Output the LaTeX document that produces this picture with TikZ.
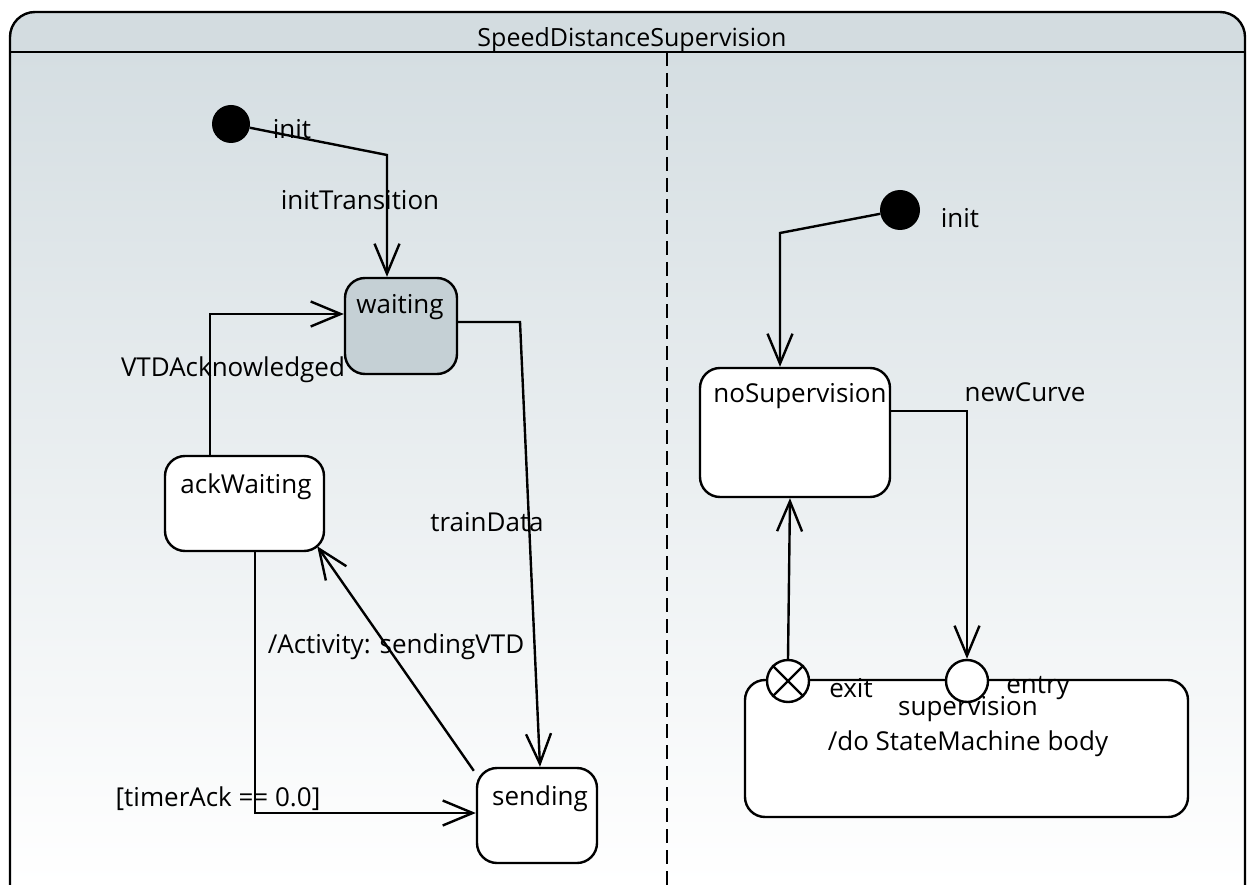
\documentclass[tikz,border=0pt]{standalone}
\usepackage{fontspec}
\setmainfont{Open Sans}
\usetikzlibrary{arrows.meta}
\definecolor{headfill}{RGB}{211,220,224}
\definecolor{bodytop}{RGB}{213,222,226}
\definecolor{busyfill}{RGB}{197,208,213}
\tikzset{
  state/.style={
    draw,
    rounded corners=20pt,
    line width=2.4pt,
    fill=white
  },
  busy/.style={
    state,
    fill=busyfill
  },
  dot/.style={
    circle,
    fill=black,
    minimum size=38pt,
    inner sep=0pt
  },
  pin/.style={
    circle,
    draw,
    line width=2.4pt,
    fill=white,
    minimum size=42pt,
    inner sep=0pt
  },
  lbl/.style={
    inner sep=0pt,
    yshift=-3pt,
    font=\fontsize{26}{30}\selectfont
  },
  trans/.style={
    line width=2.4pt,
    -{Straight Barb[length=30pt,width=25pt]}
  },
  plain/.style={
    line width=2.4pt
  }
}
\begin{document}
\begin{tikzpicture}[x=1pt,y=-1pt]
  \useasboundingbox (0,0) rectangle (1247,885);
  \clip (0,0) rectangle (1247,885);
  \fill[white] (0,0) rectangle (1247,885);

  % frame and title band
  \begin{scope}
    \clip[rounded corners=25pt] (10,12) rectangle (1245,920);
    \fill[headfill] (10,12) rectangle (1245,52);
    \shade[top color=bodytop, bottom color=white] (10,52) rectangle (1245,885);
  \end{scope}
  \draw[plain, rounded corners=25pt] (10,920) -- (10,12) -- (1245,12) -- (1245,920);
  \draw[plain] (10,52) -- (1245,52);
  \node[lbl, font=\fontsize{25}{30}\selectfont] (title) at (632,37) {SpeedDistanceSupervision};
  \draw[line width=2pt, dash pattern=on 14pt off 7pt] (667,52) -- (667,885);

  % left region
  \node[dot] (init1) at (231,124) {};
  \node[busy, minimum width=112pt, minimum height=96pt] (waiting) at (401,326) {};
  \node[state, minimum width=159pt, minimum height=95pt] (ackWaiting) at (244.5,503.5) {};
  \node[state, minimum width=120pt, minimum height=95pt] (sending) at (537,815.5) {};
  \node[lbl] (waitingTxt) at (400,304) {waiting};
  \node[lbl] (ackWaitingTxt) at (246,484) {ackWaiting};
  \node[lbl] (sendingTxt) at (540,796) {sending};

  \coordinate (c1) at (387,155);
  \coordinate (c2) at (210,314);
  \coordinate (c3) at (520,322);
  \coordinate (c4) at (255,813);
  \draw[trans] (init1) -- (c1) -- (c1 |- waiting.north);
  \draw[trans] (c2 |- ackWaiting.north) -- (c2) -- (c2 -| waiting.west);
  \draw[trans] (waiting.east |- c3) -- (c3) -- ([xshift=3pt]sending.north);
  \draw[trans] ([shift={(-2,4)}]sending.north west) -- ([shift={(-8,-6)}]ackWaiting.south east);
  \draw[trans] (c4 |- ackWaiting.south) -- (c4) -- (c4 -| sending.west);

  \node[lbl] (lInit1) at (292,126) {init};
  \node[lbl] (lInitTr) at (360,197) {initTransition};
  \node[lbl] (lVTD) at (233,367) {VTDAcknowledged};
  \node[lbl] (lTrain) at (487,519) {trainData};
  \node[lbl] (lAct) at (396,644) {/Activity: sendingVTD};
  \node[lbl] (lTimer) at (218,796) {[timerAck == 0.0]};

  % right region
  \node[dot, minimum size=40pt] (init2) at (900,210) {};
  \node[state, minimum width=190pt, minimum height=129pt] (noSup) at (795,432.5) {};
  \node[state, minimum width=443pt, minimum height=137pt] (sup) at (966.5,748.5) {};
  \node[pin] (exitPt) at (788,681) {};
  \node[pin] (entryPt) at (967,681) {};
  \draw[plain] (exitPt.north west) -- (exitPt.south east);
  \draw[plain] (exitPt.north east) -- (exitPt.south west);
  \node[lbl] (noSupTxt) at (800,393) {noSupervision};
  \node[lbl] (supTxt) at (968,706) {supervision};
  \node[lbl] (supDo) at (968,741) {/do StateMachine body};

  \coordinate (c5) at (780,233);
  \coordinate (c6) at (967,411);
  \draw[trans] (init2) -- (c5) -- (c5 |- noSup.north);
  \draw[trans] (noSup.east |- c6) -- (c6) -- (entryPt.north);
  \draw[trans] (exitPt.north) -- ([xshift=2pt]exitPt.north |- noSup.south);

  \node[lbl] (lInit2) at (960,215) {init};
  \node[lbl] (lNewCurve) at (1025,389) {newCurve};
  \node[lbl] (lExit) at (851,685) {exit};
  \node[lbl] (lEntry) at (1038,685) {entry};
\end{tikzpicture}
\end{document}
